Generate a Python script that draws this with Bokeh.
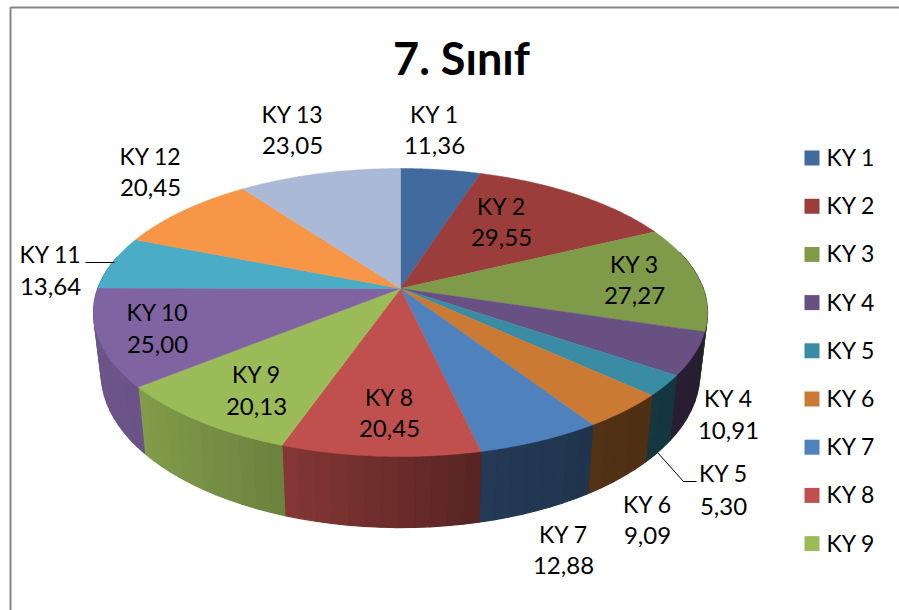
import numpy as np
from bokeh.plotting import figure
from bokeh.models import Range1d
from bokeh.core.properties import value
from bokeh.embed import file_html
from bokeh.resources import INLINE

title = "7. Sınıf"
categories = ["KY 1", "KY 2", "KY 3", "KY 4", "KY 5", "KY 6", "KY 7",
              "KY 8", "KY 9", "KY 10", "KY 11", "KY 12", "KY 13"]
values = [11.36, 29.55, 27.27, 10.91, 5.30, 9.09, 12.88,
          20.45, 20.13, 25.00, 13.64, 20.45, 23.05]
legend_shown = categories[:9]

top_colors = ["#416A9E", "#9A3D3B", "#7F9A49", "#695083", "#3A8CA4", "#CB7A34", "#4F81BD",
              "#C0504D", "#9BBB59", "#8064A2", "#4BACC6", "#F79646", "#AAB9D6"]
# slice labels: centre x, first line y, second line y (pixels)
label_x = [434, 501, 634, 728, 723, 647, 563, 389, 256, 157, 50, 150, 292]
label_y1 = [113, 205, 263, 397, 472, 503, 533, 396, 373, 311, 253, 155, 113]
label_y2 = [145, 237, 295, 430, 506, 535, 565, 428, 406, 344, 286, 187, 145]

FONT = "Lato"
LABEL_SIZE = "23px"
VALUE_SIZE = "24px"
CX, CY, F, G, K = 400.0, 288.0, 302.7, 140.0, 0.1667
DEPTH, SHRINK = 59.2, 0.975
SHADE_X = [100, 143, 285, 479, 588, 700]
SHADE_F = [0.85, 0.83, 0.69, 0.46, 0.41, 0.38]


def project(t):
    X, Y = np.sin(t), np.cos(t)
    s = 1 + K * Y
    return CX + F * X / s, CY - G * Y / s


def project_bottom(t):
    x, y = project(t)
    return CX + SHRINK * (x - CX), y + DEPTH / (1 + K * np.cos(t))


def shade(hex_color, f):
    r, g, b = (int(hex_color[i:i + 2], 16) for i in (1, 3, 5))
    return "#%02x%02x%02x" % (int(r * f), int(g * f), int(b * f))


total = sum(values)
edges = np.concatenate([[0.0], np.cumsum(values)]) / total * 2 * np.pi

p = figure(width=899, height=610, x_range=Range1d(0, 899), y_range=Range1d(610, 0),
           x_axis_type=None, y_axis_type=None, toolbar_location=None,
           output_backend="svg", min_border=0, outline_line_color=None,
           background_fill_color="white", border_fill_color="white")

# chart frame
p.line([10, 10, 899], [610, 7, 7], line_color="#868686", line_width=2)

# walls, in thin strips so the shading changes along the rim
wx, wy, wc = [], [], []
for i, col in enumerate(top_colors):
    a0, a1 = edges[i], edges[i + 1]
    n = max(2, int(np.degrees(a1 - a0) / 2.5))
    ts = np.linspace(a0, a1, n + 1)
    for t0, t1 in zip(ts[:-1], ts[1:]):
        tm = 0.5 * (t0 + t1)
        if np.cos(tm) > 0.25:
            continue
        x0, y0 = project(t0)
        x1, y1 = project(t1)
        x2, y2 = project_bottom(t1)
        x3, y3 = project_bottom(t0)
        wx.append([x0, x1, x2, x3])
        wy.append([y0, y1, y2, y3])
        wc.append(shade(col, float(np.interp(0.5 * (x0 + x1), SHADE_X, SHADE_F))))
p.patches(wx, wy, fill_color=wc, line_color=wc, line_width=1.2)

# top face
tx, ty = [], []
for i in range(len(values)):
    ts = np.linspace(edges[i], edges[i + 1], 60)
    x, y = project(ts)
    tx.append([CX] + list(x))
    ty.append([CY] + list(y))
p.patches(tx, ty, fill_color=top_colors, line_color=top_colors, line_width=0.5)

# leader lines
p.line([85, 114], [262, 262], line_color="black", line_width=1)
p.line([657, 683, 696], [452, 481, 481], line_color="black", line_width=1)

# labels
val_text = [f"{v:.2f}".replace(".", ",") for v in values]
p.text(label_x, label_y1, text=categories, text_font=value(FONT), text_font_size=value(LABEL_SIZE),
       text_align="center", text_baseline="middle", text_color="black")
p.text(label_x, label_y2, text=val_text, text_font=value(FONT), text_font_size=value(VALUE_SIZE),
       text_align="center", text_baseline="middle", text_color="black")

# title
p.text([461], [57], text=[title], text_font=value(FONT), text_font_size=value("45px"),
       text_font_style="bold", text_align="center", text_baseline="middle", text_color="black")

# legend
ly = [157.5 + 48.2 * i for i in range(len(legend_shown))]
p.quad(left=[804] * len(ly), right=[819] * len(ly),
       top=[y - 7.5 for y in ly], bottom=[y + 7.5 for y in ly],
       fill_color=top_colors[:len(ly)], line_color=None)
p.text([826] * len(ly), [y - 1 for y in ly], text=legend_shown, text_font=value(FONT),
       text_font_size=value(LABEL_SIZE), text_align="left", text_baseline="middle",
       text_color="black")

open("out.html", "w").write(file_html(p, INLINE))
